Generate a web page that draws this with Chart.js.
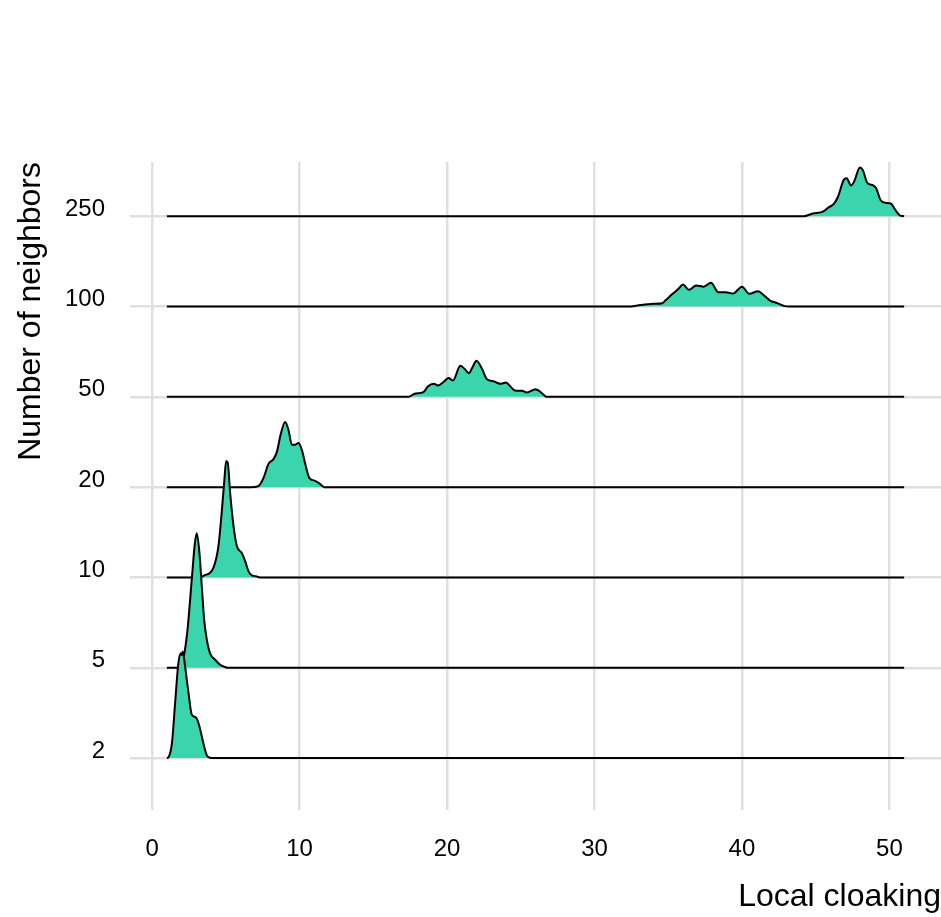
<!DOCTYPE html>
<html>
<head>
<meta charset="utf-8">
<script src="https://cdn.jsdelivr.net/npm/chart.js@4"></script>
<style>
  body { margin: 0; background: #fff; }
</style>
</head>
<body>
<canvas id="ridgeCanvas" width="941" height="917"></canvas>
<script>
// categories from bottom row to top row
let categories = ['2', '5', '10', '20', '50', '100', '250'];
let xTicks = [0, 10, 20, 30, 40, 50];

// each ridge: x positions and heights (percent of the row spacing)
let ridge2X = [1, 1.1, 1.34, 1.56, 1.78, 1.95, 2.0, 2.08, 2.24, 2.47, 2.69, 2.98, 3.21, 3.48, 3.71, 3.93, 4.05, 51];
let ridge2H = [0, 0.8, 16, 61, 105, 116, 114, 118, 101, 72, 48, 45, 35, 16, 3, 0.3, 0, 0];

let ridge5X = [1, 1.8, 2.0, 2.2, 2.4, 2.7, 2.9, 3.03, 3.21, 3.37, 3.53, 3.71, 3.93, 4.27, 4.61, 4.95, 5.1, 51];
let ridge5H = [0, 0, 3, 17, 42, 100, 138, 149, 127, 90, 53, 31, 16, 9, 3.3, 0.8, 0, 0];

let ridge10X = [1, 3.2, 3.5, 4.16, 4.5, 4.72, 4.9, 5.02, 5.13, 5.29, 5.52, 5.74, 6.08, 6.31, 6.53, 6.76, 7.1, 7.3, 51];
let ridge10H = [0, 0, 2, 11, 35, 72, 108, 129, 127, 94, 57, 35, 27, 18, 7, 2.2, 1.1, 0, 0];

let ridge20X = [1, 6.65, 7.2, 7.55, 7.9, 8.23, 8.46, 8.73, 9.02, 9.25, 9.48, 9.7, 9.93, 10.16, 10.38, 10.67, 11.06, 11.4, 11.67, 51];
let ridge20H = [0, 0, 1, 10, 26, 31, 39, 59, 72, 63, 47, 47, 49, 41, 26, 10, 7, 3.3, 0, 0];

let ridge50X = [1, 17.4, 17.8, 18.4, 18.7, 19.1, 19.4, 19.8, 20.1, 20.4, 20.9, 21.2, 21.5, 21.7, 22.0, 22.4, 22.7, 23.2, 23.6, 24.0, 24.3, 24.6, 25.1, 25.4, 26.0, 26.3, 26.7, 26.8, 51];
let ridge50H = [0, 0, 3.3, 5.2, 11.4, 14.4, 12.5, 17, 20.7, 18, 34.3, 30.7, 26.2, 31.8, 39.9, 29.9, 19.6, 17, 14.4, 15.8, 11.4, 7, 6.6, 4.8, 8.5, 5.9, 0.3, 0, 0];

let ridge100X = [1, 32.4, 32.9, 34.0, 34.6, 34.8, 35.3, 35.7, 36.0, 36.4, 36.9, 37.4, 37.9, 38.4, 38.9, 39.4, 40.0, 40.5, 41.1, 41.5, 41.9, 42.4, 42.9, 43.2, 51];
let ridge100H = [0, 0, 1.1, 3, 3.7, 6.6, 14, 19.6, 24.4, 18.5, 23.2, 22, 26.2, 15.8, 15.8, 14.4, 22, 14, 17, 12.2, 6.6, 3.7, 0.4, 0, 0];

let ridge250X = [1, 44.2, 44.8, 45.5, 45.9, 46.2, 46.5, 46.9, 47.1, 47.4, 47.6, 48.0, 48.2, 48.5, 48.9, 49.1, 49.4, 49.7, 50.1, 50.4, 50.7, 51];
let ridge250H = [0, 0, 3, 5, 10, 13, 21, 40, 42, 34, 38, 54, 51, 37, 34, 31, 18, 15, 14, 7, 1, 0];

let ridgeX = [ridge2X, ridge5X, ridge10X, ridge20X, ridge50X, ridge100X, ridge250X];
let ridgeH = [ridge2H, ridge5H, ridge10H, ridge20H, ridge50H, ridge100H, ridge250H];

let fillColor = '#3bd5ad';
let gridColor = '#e0e0e0';
let fontFamily = '"Liberation Sans", Arial, sans-serif';

let buildDatasets = function () {
    return categories.map(function (cat, i) {
        return {
            label: cat,
            data: ridgeX[i].map(function (x, j) {
                return { x: x, y: i + ridgeH[i][j] / 100 };
            }),
            borderColor: '#000',
            borderWidth: 2,
            backgroundColor: fillColor,
            fill: { value: i },
            pointRadius: 0,
            cubicInterpolationMode: 'monotone',
            borderJoinStyle: 'round',
            order: i
        };
    });
};

window.onload = function () {
    let ctx = document.getElementById('ridgeCanvas').getContext('2d');

    window.ridgeChart = new Chart(ctx, {
        type: 'line',
        data: { datasets: buildDatasets() },
        options: {
            responsive: false,
            animation: false,
            layout: { padding: { top: 162, left: 0, right: 0, bottom: 0 } },
            plugins: {
                legend: { display: false },
                tooltip: { enabled: false }
            },
            scales: {
                x: {
                    type: 'linear',
                    min: -1.5,
                    max: 53.5,
                    afterBuildTicks: function (scale) {
                        scale.ticks = xTicks.map(function (v) { return { value: v }; });
                    },
                    afterFit: function (scale) { scale.height = 107; },
                    grid: { color: gridColor, lineWidth: 2.5, drawTicks: false },
                    border: { display: false },
                    ticks: {
                        color: '#000',
                        padding: 25,
                        maxRotation: 0,
                        font: { family: fontFamily, size: 24 }
                    },
                    title: {
                        display: true,
                        text: 'Local cloaking',
                        align: 'end',
                        color: '#000',
                        padding: { top: 0, bottom: 1 },
                        font: { family: fontFamily, size: 32 }
                    }
                },
                y: {
                    type: 'linear',
                    min: -0.575,
                    max: 6.6,
                    afterBuildTicks: function (scale) {
                        scale.ticks = categories.map(function (c, i) { return { value: i }; });
                    },
                    afterFit: function (scale) { scale.width = 130; },
                    grid: { color: gridColor, lineWidth: 2.5, drawTicks: false },
                    border: { display: false },
                    ticks: {
                        color: '#000',
                        padding: 25,
                        labelOffset: -7,
                        font: { family: fontFamily, size: 24 },
                        callback: function (value) { return categories[value]; }
                    },
                    title: {
                        display: true,
                        text: 'Number of neighbors',
                        align: 'end',
                        color: '#000',
                        padding: { top: 12, bottom: 0 },
                        font: { family: fontFamily, size: 32 }
                    }
                }
            }
        }
    });
};
</script>
</body>
</html>
